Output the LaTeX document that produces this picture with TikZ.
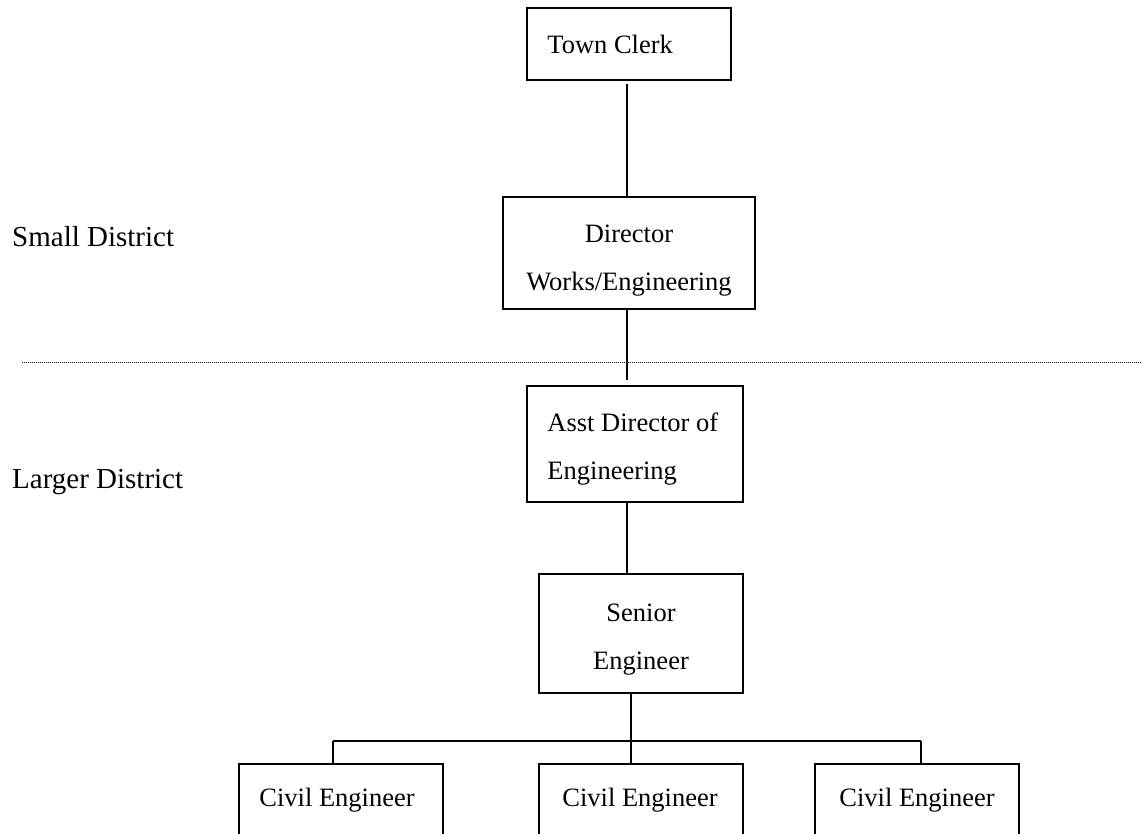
\documentclass[tikz,border=0pt]{standalone}
\usepackage{fontspec}
\setmainfont{Liberation Serif}
\begin{document}
\begin{tikzpicture}[x=1pt,y=-1pt,
  every node/.style={font=\fontsize{26.5}{48}\selectfont},
  box/.style={draw,line width=1.5pt,rectangle,inner sep=0pt},
  caption/.style={inner sep=0pt},
  conn/.style={line width=1.5pt},
  divider/.style={line width=0.9pt,dash pattern=on 1pt off 1pt},
  region/.style={anchor=base west,inner sep=0pt,font=\fontsize{29}{34}\selectfont}]
\useasboundingbox (0,0) rectangle (1141,834);
\clip (0,0) rectangle (1141,834);

% organisation boxes
\node[box,minimum width=204pt,minimum height=72pt] (clerk) at (629,44) {};
\node[box,minimum width=252pt,minimum height=112pt] (director) at (629,253) {};
\node[box,minimum width=216pt,minimum height=116pt] (asst) at (635,444) {};
\node[box,minimum width=204pt,minimum height=119pt] (senior) at (641,633.5) {};
\node[box,minimum width=204pt,minimum height=72pt] (civA) at (341,800) {};
\node[box,minimum width=204pt,minimum height=72pt] (civB) at (641,800) {};
\node[box,minimum width=204pt,minimum height=72pt] (civC) at (917,800) {};

% box captions
\node[caption,anchor=west] (clerkT) at ([xshift=21pt]clerk.west) {Town Clerk};
\node[caption,align=center] (directorT) at ([yshift=-8pt]director.center) {Director\\Works/Engineering};
\node[caption,align=left,anchor=west] (asstT) at ([xshift=21pt,yshift=-5pt]asst.west) {Asst Director of\\Engineering};
\node[caption,align=center] (seniorT) at ([yshift=-6pt]senior.center) {Senior\\Engineer};
\node[caption] (civAT) at ([xshift=-4pt]civA.center) {Civil Engineer};
\node[caption] (civBT) at ([xshift=-1pt]civB.center) {Civil Engineer};
\node[caption] (civCT) at (civC.center) {Civil Engineer};

% district labels and divider
\node[region] (small) at (12,247) {Small District};
\node[region] (large) at (12,488) {Larger District};
\coordinate (divL) at (22,362);
\coordinate (divR) at (1141,362);
\draw[divider] (divL) -- (divR);

% reporting lines
\coordinate (spine) at (627,0);
\coordinate (bus) at (631,741);
\coordinate (busL) at (333,741);
\coordinate (busR) at (921,741);
\draw[conn] ([yshift=-3pt]clerk.south -| spine) -- (director.north -| spine);
\draw[conn] (director.south -| spine) -- ([yshift=5pt]asst.north -| spine);
\draw[conn] (asst.south -| spine) -- (senior.north -| spine);
\draw[conn] (senior.south -| bus) -- (bus);
\draw[conn] (busL) -- (busR);
\draw[conn] (busL) -- (busL |- civA.north);
\draw[conn] (bus) -- (bus |- civB.north);
\draw[conn] (busR) -- (busR |- civC.north);
\end{tikzpicture}
\end{document}
